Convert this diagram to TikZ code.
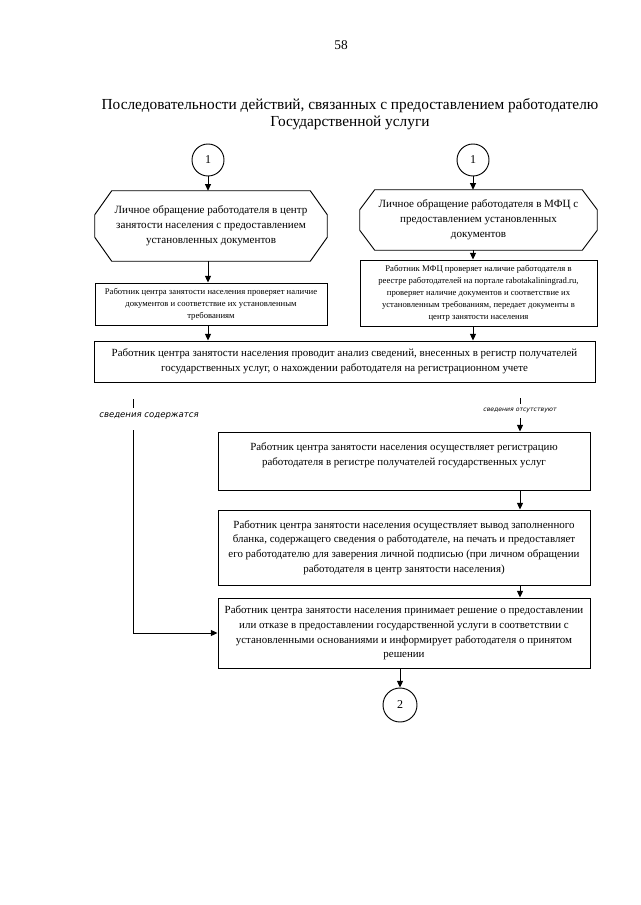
\documentclass[tikz,border=0pt]{standalone}
\usepackage{fontspec}
\setmainfont{Liberation Serif}
\newfontfamily\lblfont{DejaVu Sans}
\usetikzlibrary{calc,arrows.meta}
\newcommand\octframe[3]{% name, chamfer x, chamfer y
  \draw[frame] ($(#1.north west)+(#2,0)$) -- ($(#1.north east)+(-#2,0)$) -- ($(#1.north east)+(0,#3)$) -- ($(#1.south east)+(0,-#3)$) -- ($(#1.south east)+(-#2,0)$) -- ($(#1.south west)+(#2,0)$) -- ($(#1.south west)+(0,-#3)$) -- ($(#1.north west)+(0,#3)$) -- cycle;}
\begin{document}
\begin{tikzpicture}[x=0.75pt,y=-0.75pt,
  frame/.style={line width=0.7pt},
  box/.style={draw, line width=0.7pt, inner sep=0pt, align=center},
  octbox/.style={inner sep=0pt, align=center},
  bigtext/.style={font=\fontsize{8.2}{11}\selectfont},
  smalltext/.style={font=\fontsize{6.5}{9}\selectfont},
  conn/.style={line width=0.7pt, -{Triangle[length=5pt,width=4.5pt]}},
  plain/.style={line width=0.7pt},
  circ/.style={draw, circle, line width=0.7pt, inner sep=0pt, font=\fontsize{9}{10}\selectfont},
  lbl/.style={inner sep=0pt, font=\lblfont\itshape}
]
\useasboundingbox (0,0) rectangle (640,905);

\node[inner sep=0pt, font=\fontsize{10}{12}\selectfont] (page) at (341,45) {58};
\node[inner sep=0pt, align=center, font=\fontsize{11.5}{13}\selectfont] (title) at (350,114)
  {Последовательности действий, связанных с предоставлением работодателю\\Государственной услуги};

% top connectors
\node[circ, minimum size=24pt] (c1l) at (208,160) {1};
\node[circ, minimum size=24pt] (c1r) at (473,160) {1};

\node[octbox, font=\fontsize{8.3}{11.2}\selectfont, minimum width=174pt, minimum height=52.5pt] (o1) at (211,226)
  {Личное обращение работодателя в центр\\занятости населения с предоставлением\\установленных документов};
\octframe{o1}{17}{24}
\node[octbox, font=\fontsize{8.3}{11.2}\selectfont, minimum width=177.75pt, minimum height=45pt] (o2) at (478.5,220)
  {Личное обращение работодателя в МФЦ с\\предоставлением установленных\\документов};
\octframe{o2}{15}{20}

\node[box, smalltext, minimum width=174pt, minimum height=31.5pt] (b1) at (211,304)
  {Работник центра занятости населения проверяет наличие\\документов и соответствие их установленным\\требованиям};
\node[box, smalltext, minimum width=177.75pt, minimum height=49.5pt] (b2) at (478.5,293)
  {Работник МФЦ проверяет наличие работодателя в\\реестре работодателей на портале rabotakaliningrad.ru,\\проверяет наличие документов и соответствие их\\установленным требованиям, передает документы в\\центр занятости населения};

\node[box, bigtext, minimum width=375.75pt, minimum height=30.75pt] (w) at (344.5,361.5)
  {Работник центра занятости населения проводит анализ сведений, внесенных в регистр получателей\\государственных услуг, о нахождении работодателя на регистрационном учете};

\node[box, minimum width=279pt, minimum height=43.5pt] (b3) at (404,461) {};
\node[inner sep=0pt, align=center, bigtext] (b3t) at (404,455)
  {Работник центра занятости населения осуществляет регистрацию\\работодателя в регистре получателей государственных услуг};
\node[box, bigtext, minimum width=279pt, minimum height=56.25pt] (b4) at (404,547.5)
  {Работник центра занятости населения осуществляет вывод заполненного\\бланка, содержащего сведения о работодателе, на печать и предоставляет\\его работодателю для заверения личной подписью (при личном обращении\\работодателя в центр занятости населения)};
\node[box, bigtext, minimum width=279pt, minimum height=52.5pt] (b5) at (404,633)
  {Работник центра занятости населения принимает решение о предоставлении\\или отказе в предоставлении государственной услуги в соответствии с\\установленными основаниями и информирует работодателя о принятом\\решении};
\node[circ, minimum size=25.5pt, font=\fontsize{9}{10}\selectfont] (c2) at (400,705) {2};

% branch labels
\coordinate (lt1) at (133,399);
\coordinate (lt2) at (133,408);
\node[lbl, font=\lblfont\itshape\fontsize{6.4}{7}\selectfont] (lyes) at (149,416) {сведения содержатся};
\coordinate (ll) at (133,430);
\coordinate (rt1) at (520,398);
\coordinate (rt2) at (520,404);
\node[lbl, font=\lblfont\itshape\fontsize{4.6}{5}\selectfont] (lno) at (520,410) {сведения отсутствуют};
\coordinate (rr) at (520,418);

% connectors
\draw[conn] (c1l.south) -- (c1l.south |- o1.north);
\draw[conn] (c1r.south) -- (c1r.south |- o2.north);
\draw[conn] (c1l.south |- o1.south) -- (c1l.south |- b1.north);
\draw[conn] (c1r.south |- o2.south) -- (c1r.south |- b2.north);
\draw[conn] (c1l.south |- b1.south) -- (c1l.south |- w.north);
\draw[conn] (c1r.south |- b2.south) -- (c1r.south |- w.north);
\draw[plain] (lt1) -- (lt2);
\draw[conn] (ll) |- (b5.west);
\draw[plain] (rt1) -- (rt2);
\draw[conn] (rr) -- (rr |- b3.north);
\draw[conn] (rr |- b3.south) -- (rr |- b4.north);
\draw[conn] (rr |- b4.south) -- (rr |- b5.north);
\draw[conn] (c2.north |- b5.south) -- (c2.north);
\end{tikzpicture}
\end{document}
